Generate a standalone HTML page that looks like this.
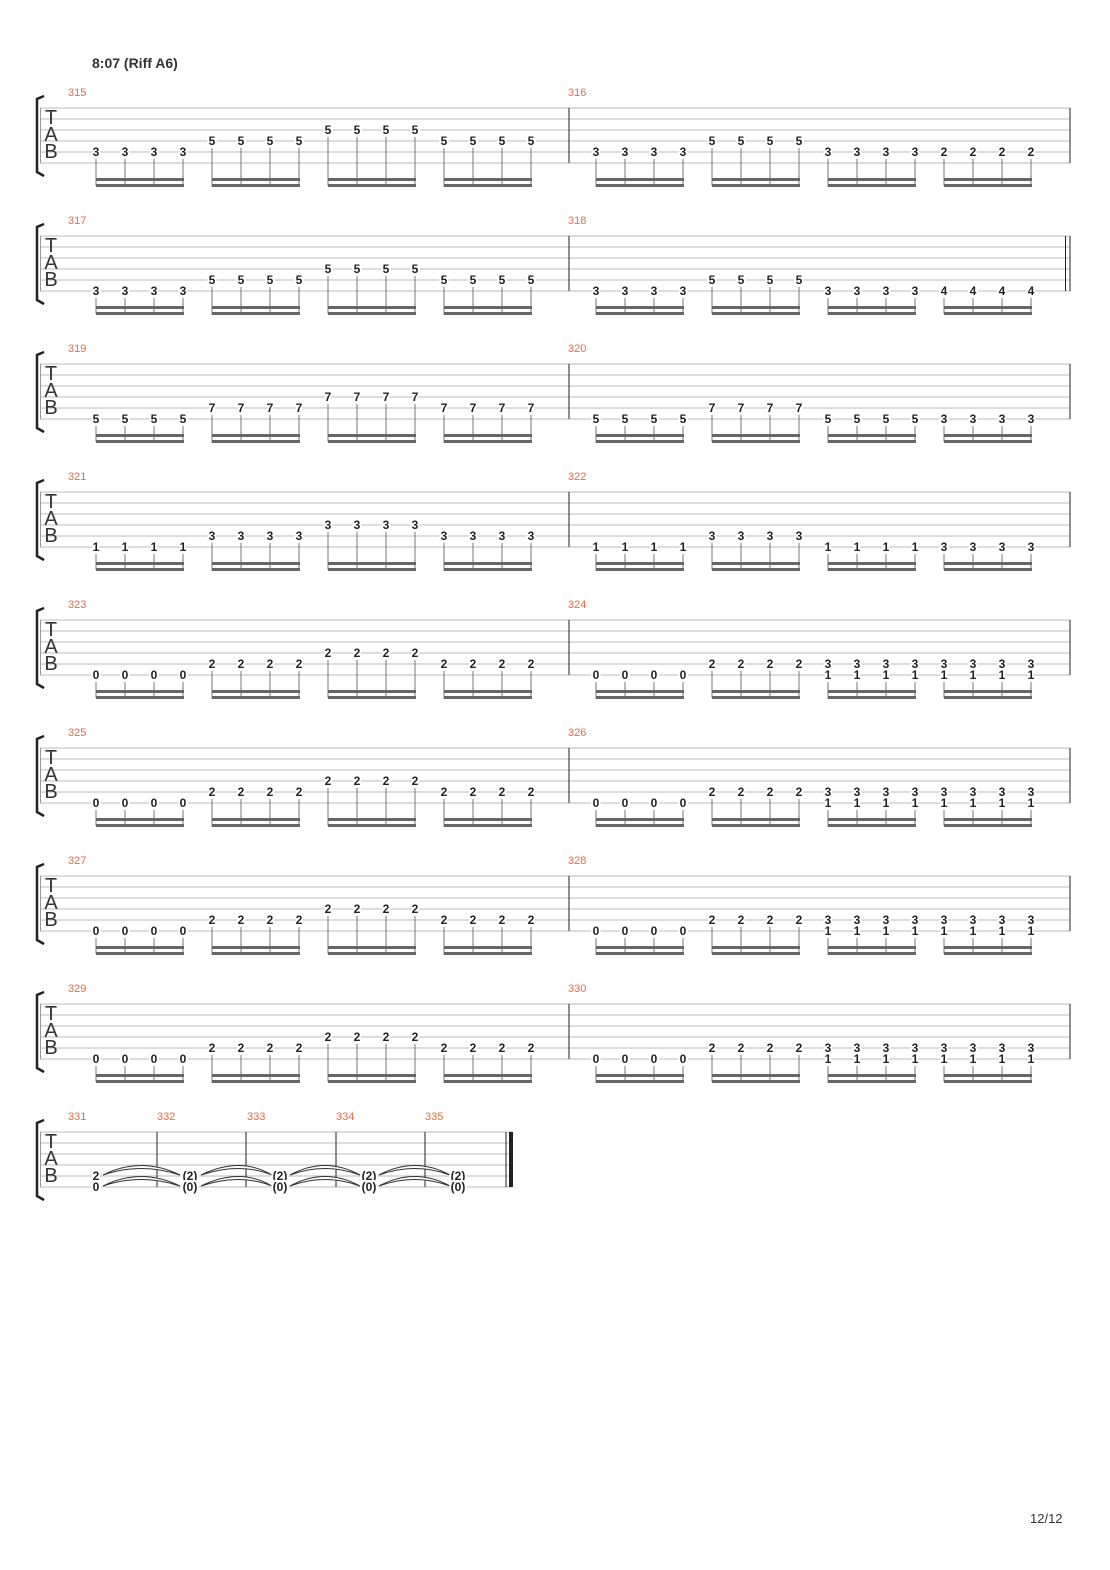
<!DOCTYPE html>
<html><head><meta charset="utf-8"><style>
body{margin:0;background:#fff}
svg{display:block}
.n{font:bold 12px "Liberation Sans",sans-serif;fill:#222;text-anchor:middle;paint-order:stroke;stroke:#fff;stroke-width:4px;stroke-linejoin:round}
.m{font:11px "Liberation Sans",sans-serif;fill:#f0683c}
.t{font:20px "Liberation Sans",sans-serif;fill:#333;text-anchor:middle}
</style></head><body>
<svg id="s" width="1110" height="1570" xmlns="http://www.w3.org/2000/svg">
<g id="geo"></g>
<text x="92" y="68" style="font:bold 14px 'Liberation Sans',sans-serif;fill:#333">8:07 (Riff A6)</text>
<text x="1030" y="1523" style="font:13px 'Liberation Sans',sans-serif;fill:#333">12/12</text>

<g transform="translate(0,108)">
<text class="m" x="68" y="-12">315</text><text class="m" x="568" y="-12">316</text>
<text class="t" x="51" y="16">T</text><text class="t" x="51" y="33">A</text><text class="t" x="51" y="50">B</text>
<text class="n" x="96" y="48">3</text><text class="n" x="125" y="48">3</text><text class="n" x="154" y="48">3</text><text class="n" x="183" y="48">3</text>
<text class="n" x="212" y="37">5</text><text class="n" x="241" y="37">5</text><text class="n" x="270" y="37">5</text><text class="n" x="299" y="37">5</text>
<text class="n" x="328" y="26">5</text><text class="n" x="357" y="26">5</text><text class="n" x="386" y="26">5</text><text class="n" x="415" y="26">5</text>
<text class="n" x="444" y="37">5</text><text class="n" x="473" y="37">5</text><text class="n" x="502" y="37">5</text><text class="n" x="531" y="37">5</text>
<text class="n" x="596" y="48">3</text><text class="n" x="625" y="48">3</text><text class="n" x="654" y="48">3</text><text class="n" x="683" y="48">3</text>
<text class="n" x="712" y="37">5</text><text class="n" x="741" y="37">5</text><text class="n" x="770" y="37">5</text><text class="n" x="799" y="37">5</text>
<text class="n" x="828" y="48">3</text><text class="n" x="857" y="48">3</text><text class="n" x="886" y="48">3</text><text class="n" x="915" y="48">3</text>
<text class="n" x="944" y="48">2</text><text class="n" x="973" y="48">2</text><text class="n" x="1002" y="48">2</text><text class="n" x="1031" y="48">2</text>
</g>

<g transform="translate(0,236)">
<text class="m" x="68" y="-12">317</text><text class="m" x="568" y="-12">318</text>
<text class="t" x="51" y="16">T</text><text class="t" x="51" y="33">A</text><text class="t" x="51" y="50">B</text>
<text class="n" x="96" y="59">3</text><text class="n" x="125" y="59">3</text><text class="n" x="154" y="59">3</text><text class="n" x="183" y="59">3</text>
<text class="n" x="212" y="48">5</text><text class="n" x="241" y="48">5</text><text class="n" x="270" y="48">5</text><text class="n" x="299" y="48">5</text>
<text class="n" x="328" y="37">5</text><text class="n" x="357" y="37">5</text><text class="n" x="386" y="37">5</text><text class="n" x="415" y="37">5</text>
<text class="n" x="444" y="48">5</text><text class="n" x="473" y="48">5</text><text class="n" x="502" y="48">5</text><text class="n" x="531" y="48">5</text>
<text class="n" x="596" y="59">3</text><text class="n" x="625" y="59">3</text><text class="n" x="654" y="59">3</text><text class="n" x="683" y="59">3</text>
<text class="n" x="712" y="48">5</text><text class="n" x="741" y="48">5</text><text class="n" x="770" y="48">5</text><text class="n" x="799" y="48">5</text>
<text class="n" x="828" y="59">3</text><text class="n" x="857" y="59">3</text><text class="n" x="886" y="59">3</text><text class="n" x="915" y="59">3</text>
<text class="n" x="944" y="59">4</text><text class="n" x="973" y="59">4</text><text class="n" x="1002" y="59">4</text><text class="n" x="1031" y="59">4</text>
</g>

<g transform="translate(0,364)">
<text class="m" x="68" y="-12">319</text><text class="m" x="568" y="-12">320</text>
<text class="t" x="51" y="16">T</text><text class="t" x="51" y="33">A</text><text class="t" x="51" y="50">B</text>
<text class="n" x="96" y="59">5</text><text class="n" x="125" y="59">5</text><text class="n" x="154" y="59">5</text><text class="n" x="183" y="59">5</text>
<text class="n" x="212" y="48">7</text><text class="n" x="241" y="48">7</text><text class="n" x="270" y="48">7</text><text class="n" x="299" y="48">7</text>
<text class="n" x="328" y="37">7</text><text class="n" x="357" y="37">7</text><text class="n" x="386" y="37">7</text><text class="n" x="415" y="37">7</text>
<text class="n" x="444" y="48">7</text><text class="n" x="473" y="48">7</text><text class="n" x="502" y="48">7</text><text class="n" x="531" y="48">7</text>
<text class="n" x="596" y="59">5</text><text class="n" x="625" y="59">5</text><text class="n" x="654" y="59">5</text><text class="n" x="683" y="59">5</text>
<text class="n" x="712" y="48">7</text><text class="n" x="741" y="48">7</text><text class="n" x="770" y="48">7</text><text class="n" x="799" y="48">7</text>
<text class="n" x="828" y="59">5</text><text class="n" x="857" y="59">5</text><text class="n" x="886" y="59">5</text><text class="n" x="915" y="59">5</text>
<text class="n" x="944" y="59">3</text><text class="n" x="973" y="59">3</text><text class="n" x="1002" y="59">3</text><text class="n" x="1031" y="59">3</text>
</g>

<g transform="translate(0,492)">
<text class="m" x="68" y="-12">321</text><text class="m" x="568" y="-12">322</text>
<text class="t" x="51" y="16">T</text><text class="t" x="51" y="33">A</text><text class="t" x="51" y="50">B</text>
<text class="n" x="96" y="59">1</text><text class="n" x="125" y="59">1</text><text class="n" x="154" y="59">1</text><text class="n" x="183" y="59">1</text>
<text class="n" x="212" y="48">3</text><text class="n" x="241" y="48">3</text><text class="n" x="270" y="48">3</text><text class="n" x="299" y="48">3</text>
<text class="n" x="328" y="37">3</text><text class="n" x="357" y="37">3</text><text class="n" x="386" y="37">3</text><text class="n" x="415" y="37">3</text>
<text class="n" x="444" y="48">3</text><text class="n" x="473" y="48">3</text><text class="n" x="502" y="48">3</text><text class="n" x="531" y="48">3</text>
<text class="n" x="596" y="59">1</text><text class="n" x="625" y="59">1</text><text class="n" x="654" y="59">1</text><text class="n" x="683" y="59">1</text>
<text class="n" x="712" y="48">3</text><text class="n" x="741" y="48">3</text><text class="n" x="770" y="48">3</text><text class="n" x="799" y="48">3</text>
<text class="n" x="828" y="59">1</text><text class="n" x="857" y="59">1</text><text class="n" x="886" y="59">1</text><text class="n" x="915" y="59">1</text>
<text class="n" x="944" y="59">3</text><text class="n" x="973" y="59">3</text><text class="n" x="1002" y="59">3</text><text class="n" x="1031" y="59">3</text>
</g>

<g transform="translate(0,620)">
<text class="m" x="68" y="-12">323</text><text class="m" x="568" y="-12">324</text>
<text class="t" x="51" y="16">T</text><text class="t" x="51" y="33">A</text><text class="t" x="51" y="50">B</text>
<text class="n" x="96" y="59">0</text><text class="n" x="125" y="59">0</text><text class="n" x="154" y="59">0</text><text class="n" x="183" y="59">0</text>
<text class="n" x="212" y="48">2</text><text class="n" x="241" y="48">2</text><text class="n" x="270" y="48">2</text><text class="n" x="299" y="48">2</text>
<text class="n" x="328" y="37">2</text><text class="n" x="357" y="37">2</text><text class="n" x="386" y="37">2</text><text class="n" x="415" y="37">2</text>
<text class="n" x="444" y="48">2</text><text class="n" x="473" y="48">2</text><text class="n" x="502" y="48">2</text><text class="n" x="531" y="48">2</text>
<text class="n" x="596" y="59">0</text><text class="n" x="625" y="59">0</text><text class="n" x="654" y="59">0</text><text class="n" x="683" y="59">0</text>
<text class="n" x="712" y="48">2</text><text class="n" x="741" y="48">2</text><text class="n" x="770" y="48">2</text><text class="n" x="799" y="48">2</text>
<text class="n" x="828" y="48">3</text><text class="n" x="857" y="48">3</text><text class="n" x="886" y="48">3</text><text class="n" x="915" y="48">3</text>
<text class="n" x="944" y="48">3</text><text class="n" x="973" y="48">3</text><text class="n" x="1002" y="48">3</text><text class="n" x="1031" y="48">3</text>
<text class="n" x="828" y="59">1</text><text class="n" x="857" y="59">1</text><text class="n" x="886" y="59">1</text><text class="n" x="915" y="59">1</text>
<text class="n" x="944" y="59">1</text><text class="n" x="973" y="59">1</text><text class="n" x="1002" y="59">1</text><text class="n" x="1031" y="59">1</text>
</g>

<g transform="translate(0,748)">
<text class="m" x="68" y="-12">325</text><text class="m" x="568" y="-12">326</text>
<text class="t" x="51" y="16">T</text><text class="t" x="51" y="33">A</text><text class="t" x="51" y="50">B</text>
<text class="n" x="96" y="59">0</text><text class="n" x="125" y="59">0</text><text class="n" x="154" y="59">0</text><text class="n" x="183" y="59">0</text>
<text class="n" x="212" y="48">2</text><text class="n" x="241" y="48">2</text><text class="n" x="270" y="48">2</text><text class="n" x="299" y="48">2</text>
<text class="n" x="328" y="37">2</text><text class="n" x="357" y="37">2</text><text class="n" x="386" y="37">2</text><text class="n" x="415" y="37">2</text>
<text class="n" x="444" y="48">2</text><text class="n" x="473" y="48">2</text><text class="n" x="502" y="48">2</text><text class="n" x="531" y="48">2</text>
<text class="n" x="596" y="59">0</text><text class="n" x="625" y="59">0</text><text class="n" x="654" y="59">0</text><text class="n" x="683" y="59">0</text>
<text class="n" x="712" y="48">2</text><text class="n" x="741" y="48">2</text><text class="n" x="770" y="48">2</text><text class="n" x="799" y="48">2</text>
<text class="n" x="828" y="48">3</text><text class="n" x="857" y="48">3</text><text class="n" x="886" y="48">3</text><text class="n" x="915" y="48">3</text>
<text class="n" x="944" y="48">3</text><text class="n" x="973" y="48">3</text><text class="n" x="1002" y="48">3</text><text class="n" x="1031" y="48">3</text>
<text class="n" x="828" y="59">1</text><text class="n" x="857" y="59">1</text><text class="n" x="886" y="59">1</text><text class="n" x="915" y="59">1</text>
<text class="n" x="944" y="59">1</text><text class="n" x="973" y="59">1</text><text class="n" x="1002" y="59">1</text><text class="n" x="1031" y="59">1</text>
</g>

<g transform="translate(0,876)">
<text class="m" x="68" y="-12">327</text><text class="m" x="568" y="-12">328</text>
<text class="t" x="51" y="16">T</text><text class="t" x="51" y="33">A</text><text class="t" x="51" y="50">B</text>
<text class="n" x="96" y="59">0</text><text class="n" x="125" y="59">0</text><text class="n" x="154" y="59">0</text><text class="n" x="183" y="59">0</text>
<text class="n" x="212" y="48">2</text><text class="n" x="241" y="48">2</text><text class="n" x="270" y="48">2</text><text class="n" x="299" y="48">2</text>
<text class="n" x="328" y="37">2</text><text class="n" x="357" y="37">2</text><text class="n" x="386" y="37">2</text><text class="n" x="415" y="37">2</text>
<text class="n" x="444" y="48">2</text><text class="n" x="473" y="48">2</text><text class="n" x="502" y="48">2</text><text class="n" x="531" y="48">2</text>
<text class="n" x="596" y="59">0</text><text class="n" x="625" y="59">0</text><text class="n" x="654" y="59">0</text><text class="n" x="683" y="59">0</text>
<text class="n" x="712" y="48">2</text><text class="n" x="741" y="48">2</text><text class="n" x="770" y="48">2</text><text class="n" x="799" y="48">2</text>
<text class="n" x="828" y="48">3</text><text class="n" x="857" y="48">3</text><text class="n" x="886" y="48">3</text><text class="n" x="915" y="48">3</text>
<text class="n" x="944" y="48">3</text><text class="n" x="973" y="48">3</text><text class="n" x="1002" y="48">3</text><text class="n" x="1031" y="48">3</text>
<text class="n" x="828" y="59">1</text><text class="n" x="857" y="59">1</text><text class="n" x="886" y="59">1</text><text class="n" x="915" y="59">1</text>
<text class="n" x="944" y="59">1</text><text class="n" x="973" y="59">1</text><text class="n" x="1002" y="59">1</text><text class="n" x="1031" y="59">1</text>
</g>

<g transform="translate(0,1004)">
<text class="m" x="68" y="-12">329</text><text class="m" x="568" y="-12">330</text>
<text class="t" x="51" y="16">T</text><text class="t" x="51" y="33">A</text><text class="t" x="51" y="50">B</text>
<text class="n" x="96" y="59">0</text><text class="n" x="125" y="59">0</text><text class="n" x="154" y="59">0</text><text class="n" x="183" y="59">0</text>
<text class="n" x="212" y="48">2</text><text class="n" x="241" y="48">2</text><text class="n" x="270" y="48">2</text><text class="n" x="299" y="48">2</text>
<text class="n" x="328" y="37">2</text><text class="n" x="357" y="37">2</text><text class="n" x="386" y="37">2</text><text class="n" x="415" y="37">2</text>
<text class="n" x="444" y="48">2</text><text class="n" x="473" y="48">2</text><text class="n" x="502" y="48">2</text><text class="n" x="531" y="48">2</text>
<text class="n" x="596" y="59">0</text><text class="n" x="625" y="59">0</text><text class="n" x="654" y="59">0</text><text class="n" x="683" y="59">0</text>
<text class="n" x="712" y="48">2</text><text class="n" x="741" y="48">2</text><text class="n" x="770" y="48">2</text><text class="n" x="799" y="48">2</text>
<text class="n" x="828" y="48">3</text><text class="n" x="857" y="48">3</text><text class="n" x="886" y="48">3</text><text class="n" x="915" y="48">3</text>
<text class="n" x="944" y="48">3</text><text class="n" x="973" y="48">3</text><text class="n" x="1002" y="48">3</text><text class="n" x="1031" y="48">3</text>
<text class="n" x="828" y="59">1</text><text class="n" x="857" y="59">1</text><text class="n" x="886" y="59">1</text><text class="n" x="915" y="59">1</text>
<text class="n" x="944" y="59">1</text><text class="n" x="973" y="59">1</text><text class="n" x="1002" y="59">1</text><text class="n" x="1031" y="59">1</text>
</g>

<g transform="translate(0,1132)">
<text class="m" x="68" y="-12">331</text><text class="m" x="157" y="-12">332</text><text class="m" x="247" y="-12">333</text><text class="m" x="336" y="-12">334</text><text class="m" x="425" y="-12">335</text>
<text class="t" x="51" y="16">T</text><text class="t" x="51" y="33">A</text><text class="t" x="51" y="50">B</text>
<g fill="#fff" stroke="#333" stroke-width="1">
<path d="M103 43 Q141 24 180 43 Q141 30 103 43Z"/><path d="M103 54 Q141 35 180 54 Q141 41 103 54Z"/>
<path d="M201 43 Q240 24 272 43 Q240 30 201 43Z"/><path d="M201 54 Q240 35 272 54 Q240 41 201 54Z"/>
<path d="M290 43 Q325 24 360 43 Q325 30 290 43Z"/><path d="M290 54 Q325 35 360 54 Q325 41 290 54Z"/>
<path d="M379 43 Q415 24 450 43 Q415 30 379 43Z"/><path d="M379 54 Q415 35 450 54 Q415 41 379 54Z"/>
</g>
<text class="n" x="96" y="48">2</text><text class="n" x="96" y="59">0</text>
<text class="n" x="190" y="48">(2)</text><text class="n" x="190" y="59">(0)</text>
<text class="n" x="280" y="48">(2)</text><text class="n" x="280" y="59">(0)</text>
<text class="n" x="369" y="48">(2)</text><text class="n" x="369" y="59">(0)</text>
<text class="n" x="458" y="48">(2)</text><text class="n" x="458" y="59">(0)</text>
</g>
</svg>
<script>
(function(){
var g=document.getElementById('geo'),h='';
var G=[96,212,328,444,596,712,828,944];
var sys=[[48,37,26,37,48,37,48,48],[59,48,37,48,59,48,59,59],[59,48,37,48,59,48,59,59],[59,48,37,48,59,48,59,59],
[59,48,37,48,59,48,59,59],[59,48,37,48,59,48,59,59],[59,48,37,48,59,48,59,59],[59,48,37,48,59,48,59,59]];
function staff(t,x2){
 for(var i=0;i<6;i++)h+='<line x1="40" x2="'+x2+'" y1="'+(t+i*11)+'" y2="'+(t+i*11)+'" stroke="#bbb" stroke-width="1"/>';
 h+='<line x1="40.5" x2="40.5" y1="'+t+'" y2="'+(t+55)+'" stroke="#999"/>';
 h+='<path d="M44 '+(t-12)+' L37 '+(t-9)+' L37 '+(t+64)+' L44 '+(t+68)+'" fill="none" stroke="#222" stroke-width="2.5"/>';
}
for(var s=0;s<8;s++){
 var t=108+s*128;staff(t,1070);
 h+='<line x1="569" x2="569" y1="'+t+'" y2="'+(t+55)+'" stroke="#222"/>';
 if(s==1){h+='<line x1="1065.5" x2="1065.5" y1="'+t+'" y2="'+(t+55)+'" stroke="#222"/><line x1="1070" x2="1070" y1="'+t+'" y2="'+(t+55)+'" stroke="#222"/>';}
 else h+='<line x1="1070" x2="1070" y1="'+t+'" y2="'+(t+55)+'" stroke="#222"/>';
 for(var k=0;k<8;k++){
  var x=G[k];
  for(var j=0;j<4;j++)h+='<line x1="'+(x+j*29)+'" x2="'+(x+j*29)+'" y1="'+(t+sys[s][k]+3)+'" y2="'+(t+78)+'" stroke="#777" stroke-width="1"/>';
  h+='<rect x="'+x+'" y="'+(t+70)+'" width="88" height="3" fill="#666"/><rect x="'+x+'" y="'+(t+76)+'" width="88" height="3" fill="#666"/>';
 }
}
var t=1132;staff(t,512);
[157,246,336,425].forEach(function(x){h+='<line x1="'+x+'" x2="'+x+'" y1="'+t+'" y2="'+(t+55)+'" stroke="#222"/>';});
h+='<line x1="506" x2="506" y1="'+t+'" y2="'+(t+55)+'" stroke="#222"/><rect x="509" y="'+t+'" width="4" height="55" fill="#222"/>';
g.innerHTML=h;
})();
</script>
</body></html>
